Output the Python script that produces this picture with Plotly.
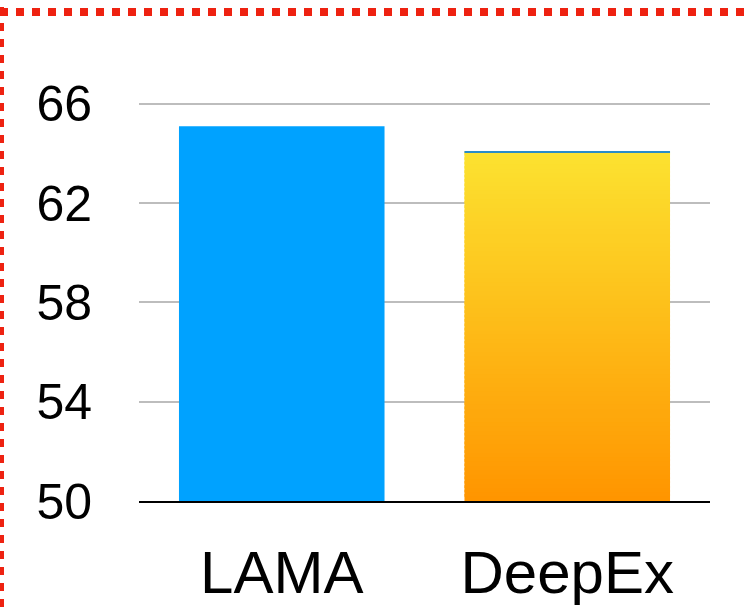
import plotly.graph_objects as go
import numpy as np

categories = ["LAMA", "DeepEx"]
values = [65.1, 64.1]
y_ticks = [50, 54, 58, 62, 66]
y_range = [50, 66.08]

lama_color = "#00A2FF"
grad_bottom = (255, 149, 0)
grad_top = (252, 226, 48)

W, H = 749, 607
ML, MR, MT, MB = 139, 39, 102, 106
PW, PH = W - ML - MR, H - MT - MB

def px_x(px):
    return (px - ML) / PW

def px_y(py):
    return (H - MB - py) / PH

fig = go.Figure()

# LAMA bar
fig.add_trace(go.Bar(x=[categories[0]], y=[values[0] - y_range[0]], base=[y_range[0]],
                     marker=dict(color=lama_color, line=dict(width=0)),
                     width=0.72, hoverinfo="skip"))

# DeepEx gradient bar built from stacked thin segments
N = 80
v = values[1]
b0 = y_range[0]
step = (v - b0) / N
bases, heights, colors = [], [], []
for i in range(N):
    t = i / (N - 1)
    c = tuple(int(round(grad_bottom[k] + (grad_top[k] - grad_bottom[k]) * t)) for k in range(3))
    bases.append(b0 + i * step)
    heights.append(step * (1.6 if i < N - 1 else 1.0))
    colors.append("rgb(%d,%d,%d)" % c)
# thin top edge
bases.append(v - 0.05)
heights.append(0.05)
colors.append("#2A8CC8")
fig.add_trace(go.Bar(x=[categories[1]] * len(bases), y=heights, base=bases,
                     marker=dict(color=colors, line=dict(width=0)),
                     width=0.72, hoverinfo="skip"))

fig.update_layout(
    width=W, height=H,
    margin=dict(l=ML, r=MR, t=MT, b=MB, pad=0, autoexpand=False),
    paper_bgcolor="white", plot_bgcolor="white",
    barmode="overlay",
    showlegend=False,
    font=dict(family="Liberation Sans, Arial, sans-serif", color="black"),
)
fig.update_yaxes(range=y_range, tickvals=y_ticks, ticktext=[str(t) for t in y_ticks],
                 showgrid=True, gridcolor="#BDBDBD", gridwidth=2, zeroline=False,
                 showline=False, ticks="", tickfont=dict(size=50),
                 ticklabelstandoff=46, automargin=False)
fig.update_xaxes(categoryorder="array", categoryarray=categories,
                 showline=True, linecolor="black", linewidth=2, ticks="",
                 tickfont=dict(size=60), ticklabelstandoff=18, showgrid=False,
                 automargin=False)

# red dotted frame (top and left)
fig.add_shape(type="line", xref="paper", yref="paper",
              x0=px_x(0), x1=px_x(W), y0=px_y(12), y1=px_y(12),
              line=dict(color="#EE2211", width=8, dash="dot"))
fig.add_shape(type="line", xref="paper", yref="paper",
              x0=px_x(0), x1=px_x(0), y0=px_y(7), y1=px_y(H),
              line=dict(color="#EE2211", width=8, dash="dot"))

fig.write_html("out.html")
